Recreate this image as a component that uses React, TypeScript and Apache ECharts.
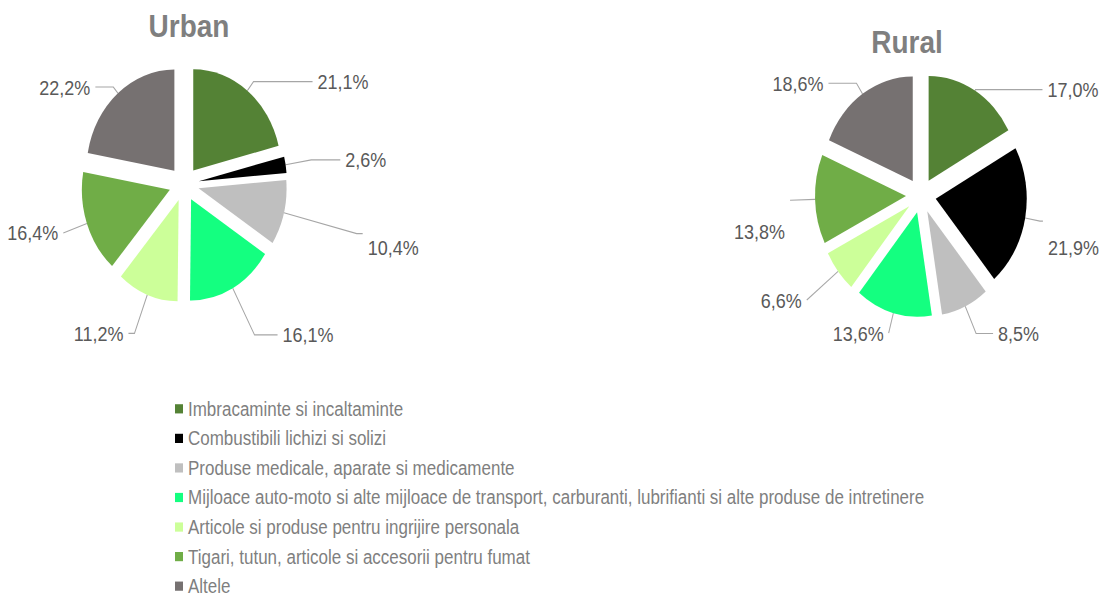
import React, { useEffect, useRef } from "react";
import * as echarts from "echarts";

const categories = [
  "Imbracaminte si incaltaminte",
  "Combustibili lichizi si solizi",
  "Produse medicale, aparate si medicamente",
  "Mijloace auto-moto si alte mijloace de transport, carburanti, lubrifianti si alte produse de intretinere",
  "Articole si produse pentru ingrijire personala",
  "Tigari, tutun, articole si accesorii pentru fumat",
  "Altele",
];
const urbanValues = [21.1, 2.6, 10.4, 16.1, 11.2, 16.4, 22.2];
const ruralValues = [17.0, 21.9, 8.5, 13.6, 6.6, 13.8, 18.6];
const titles = ["Urban", "Rural"];

// styling (kept apart from data)
const colors = ["#548235", "#000000", "#bfbfbf", "#14ff80", "#ccff99", "#70ad47", "#767171"];
// [length, length2, gap above label text] of each leader line
const urbanLeaders = [
  [10, 59, 0],
  [26, 29, 0],
  [75, 6, 24],
  [46, 23, 0],
  [36, 6, 0],
  [25, 0, 0],
  [7, 18, 0],
];
const ruralLeaders = [
  [1, 67, 0],
  [15, 3, 46],
  [26, 17, 0],
  [18, 0, 0],
  [40, 0, 0],
  [25, 0, 54],
  [11, 28, 0],
];

const SY = 1.15;
const W = 1101;
const H = 560;
const FONT = "'Liberation Sans', Arial, sans-serif";

function fmt(v: number) {
  return v.toFixed(1).replace(".", ",") + "%";
}

function makeData(values: number[], leaders: number[][]) {
  return values.map((v, i) => {
    const gap = leaders[i][2];
    return {
      name: categories[i],
      value: v,
      selected: true,
      itemStyle: { color: colors[i] },
      label: {
        formatter: gap > 0 ? "{g|}\n{v|" + fmt(v) + "}" : "{v|" + fmt(v) + "}",
        rich: {
          g: { height: gap, lineHeight: gap, fontSize: 1 },
          v: { color: "#595959", fontSize: 18, lineHeight: 20, fontFamily: FONT },
        },
      },
      labelLine: { length: leaders[i][0], length2: leaders[i][1] },
    };
  });
}

function pieSeries(values: number[], leaders: number[][], center: [number, number], radius: number) {
  return {
    type: "pie",
    center,
    radius,
    startAngle: 90,
    clockwise: true,
    selectedMode: "multiple",
    selectedOffset: 15,
    avoidLabelOverlap: false,
    data: makeData(values, leaders),
    label: {
      show: true,
      position: "outside",
      alignTo: "none",
      color: "#595959",
      fontSize: 18,
      fontFamily: FONT,
    },
    labelLine: {
      show: true,
      lineStyle: { color: "#a6a6a6", width: 1 },
    },
    emphasis: { disabled: true },
  };
}

export default function App() {
  const ref = useRef<HTMLDivElement>(null);
  useEffect(() => {
    if (!ref.current) return;
    const chart = echarts.init(ref.current, undefined, { renderer: "svg" });
    chart.setOption({
      animation: false,
      backgroundColor: "#ffffff",
      title: [
        {
          text: titles[0],
          left: 189,
          top: 8,
          padding: 0,
          textAlign: "center",
          textStyle: { color: "#7f7f7f", fontSize: 28, fontWeight: "bold", fontFamily: FONT },
        },
        {
          text: titles[1],
          left: 907,
          top: 22,
          padding: 0,
          textAlign: "center",
          textStyle: { color: "#7f7f7f", fontSize: 28, fontWeight: "bold", fontFamily: FONT },
        },
      ],
      legend: {
        orient: "vertical",
        left: 175,
        top: 347,
        height: 200,
        padding: 0,
        itemWidth: 8,
        itemHeight: 8,
        itemGap: 8.7,
        icon: "rect",
        selectedMode: false,
        data: categories,
        textStyle: { color: "#7f7f7f", fontSize: 17, lineHeight: 17, fontFamily: FONT },
      },
      series: [
        pieSeries(urbanValues, urbanLeaders, [184, 160], 88),
        pieSeries(ruralValues, ruralLeaders, [921, 170], 91),
      ],
    });
    return () => chart.dispose();
  }, []);
  return (
    <div
      style={{
        position: "fixed",
        left: 0,
        top: 0,
        width: W,
        height: 597,
        overflow: "hidden",
        background: "#fff",
      }}
    >
      <div
        ref={ref}
        style={{ width: W, height: H, transform: `scaleY(${SY})`, transformOrigin: "0 0" }}
      />
    </div>
  );
}
